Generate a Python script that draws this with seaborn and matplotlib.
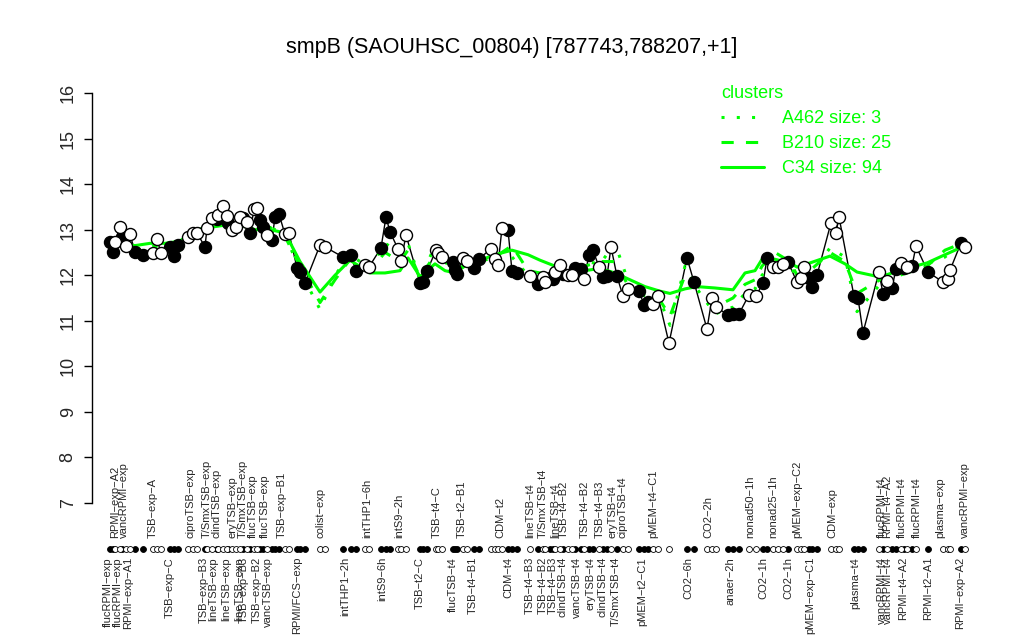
import numpy as np
import pandas as pd
import matplotlib
matplotlib.use("Agg")
import matplotlib.pyplot as plt
import seaborn as sns
from matplotlib.transforms import blended_transform_factory
from matplotlib.lines import Line2D

# ---------------- data ----------------
cond_pos = [110, 113, 115, 120, 122, 126, 130, 135, 143, 153, 157, 161, 170, 174, 178,
            188, 193, 197, 205, 207, 212, 217, 218, 223, 227, 228, 232, 236, 240, 243,
            247, 250, 254, 257, 260, 263, 267, 272, 275, 279, 285, 289, 297, 300, 305,
            320, 325, 343, 351, 356, 365, 369, 381, 386, 390, 398, 401, 406, 420, 423,
            427, 436, 438, 442, 453, 455, 457, 463, 467, 474, 479, 491, 495, 498, 502,
            508, 512, 517, 530, 538, 543, 545, 550, 553, 555, 560, 563, 568, 572, 575,
            581, 584, 589, 593, 599, 603, 607, 611, 617, 623, 628, 639, 644, 648, 653,
            658, 669, 687, 694, 707, 712, 716, 728, 733, 739, 749, 756, 763, 767, 773,
            778, 783, 788, 797, 801, 804, 809, 812, 817, 831, 836, 839, 854, 858, 863,
            879, 883, 887, 892, 896, 901, 904, 907, 912, 916, 928, 943, 948, 950, 961, 965]
expr = [12.73, 12.51, 12.73, 13.06, 12.84, 12.64, 12.90, 12.51, 12.44, 12.48, 12.80, 12.48, 12.62, 12.42, 12.66,
        12.84, 12.93, 12.93, 12.62, 13.04, 13.26, 13.23, 13.32, 13.52, 13.30, 13.15, 12.99, 13.06, 13.28, 13.26,
        13.17, 12.93, 13.45, 13.48, 13.21, 13.06, 12.88, 12.77, 13.28, 13.34, 12.90, 12.93, 12.16, 12.07, 11.83,
        12.66, 12.62, 12.40, 12.44, 12.09, 12.22, 12.18, 12.60, 13.28, 12.95, 12.58, 12.31, 12.88, 11.83, 11.85,
        12.09, 12.55, 12.48, 12.40, 12.29, 12.11, 12.03, 12.38, 12.31, 12.16, 12.36, 12.58, 12.36, 12.22, 13.04,
        12.99, 12.09, 12.05, 11.98, 11.81, 11.96, 11.85, 11.94, 11.92, 12.07, 12.22, 12.03, 12.00, 12.00, 12.16,
        12.14, 11.92, 12.44, 12.55, 12.18, 11.96, 11.98, 12.62, 11.98, 11.54, 11.70, 11.66, 11.35, 11.41, 11.37,
        11.54, 10.51, 12.38, 11.85, 10.82, 11.50, 11.30, 11.13, 11.15, 11.15, 11.57, 11.54, 11.83, 12.37, 12.18,
        12.18, 12.25, 12.29, 11.85, 11.94, 12.18, 11.94, 11.75, 12.00, 13.15, 12.93, 13.28, 11.54, 11.50, 10.74,
        12.07, 11.59, 11.87, 11.72, 12.14, 12.27, 12.16, 12.18, 12.20, 12.64, 12.07, 11.85, 11.92, 12.11, 12.71, 12.62]
filled = [1, 1, 0, 0, 1, 0, 0, 1, 1, 0, 0, 0, 1, 1, 1,
          0, 0, 0, 1, 0, 0, 1, 0, 0, 0, 1, 0, 0, 0, 1,
          0, 1, 0, 0, 1, 1, 0, 1, 1, 1, 0, 0, 1, 1, 1,
          0, 0, 1, 1, 1, 0, 0, 1, 1, 1, 0, 0, 0, 1, 1,
          1, 0, 0, 0, 1, 1, 1, 0, 0, 1, 1, 0, 0, 0, 0,
          1, 1, 1, 0, 1, 0, 0, 1, 1, 0, 0, 1, 0, 0, 1,
          1, 0, 1, 1, 0, 1, 1, 0, 1, 0, 0, 1, 1, 1, 0,
          0, 0, 1, 1, 0, 0, 0, 1, 1, 1, 0, 0, 1, 1, 0,
          0, 0, 1, 0, 0, 0, 1, 1, 1, 0, 0, 0, 1, 1, 1,
          0, 1, 0, 1, 1, 0, 1, 0, 1, 0, 1, 0, 0, 0, 1, 0]

green_pos = [110, 120, 135, 150, 165, 180, 195, 210, 225, 240, 255, 270, 285, 300, 320,
             335, 350, 370, 385, 400, 408, 420, 435, 445, 455, 468, 480, 495, 512, 528,
             540, 555, 570, 585, 600, 615, 630, 645, 660, 670, 685, 697, 715, 733, 745,
             755, 762, 775, 790, 797, 810, 830, 845, 857, 880, 900, 927, 945, 962]
c34 = [12.65, 12.70, 12.65, 12.70, 12.70, 12.75, 13.00, 13.05, 13.10, 13.10, 13.00, 13.00, 12.93, 12.30, 11.63,
       12.00, 12.33, 12.05, 12.05, 12.10, 12.38, 11.97, 12.25, 12.10, 12.05, 12.25, 12.33, 12.45, 12.55, 12.45,
       12.33, 12.20, 12.05, 12.10, 12.15, 12.05, 11.90, 11.75, 11.65, 11.60, 11.70, 11.75, 11.72, 11.68, 12.05,
       12.10, 12.35, 12.35, 12.27, 12.18, 12.27, 12.42, 12.25, 12.07, 11.96, 12.11, 12.27, 12.45, 12.62]
b210 = [12.55, 12.75, 12.55, 12.60, 12.75, 12.55, 12.90, 13.05, 13.20, 13.15, 13.05, 13.05, 12.85, 12.20, 11.40,
        11.90, 12.35, 12.10, 12.50, 12.30, 12.55, 11.95, 12.45, 12.30, 12.05, 12.30, 12.30, 12.40, 12.65, 12.10,
        12.05, 12.00, 12.05, 12.20, 12.30, 12.30, 11.70, 11.55, 11.45, 11.10, 12.00, 11.80, 11.30, 11.50, 11.80,
        11.90, 12.20, 12.50, 12.30, 12.00, 12.10, 12.50, 12.30, 11.60, 11.90, 12.00, 12.20, 12.55, 12.70]
a462 = [12.60, 12.90, 12.50, 12.55, 12.75, 12.55, 12.95, 13.10, 13.30, 13.20, 13.20, 13.05, 12.90, 12.10, 11.25,
        12.00, 12.45, 12.15, 12.70, 12.50, 12.70, 11.90, 12.65, 12.45, 12.10, 12.35, 12.35, 12.45, 12.40, 12.00,
        11.95, 12.00, 12.10, 12.30, 12.25, 12.70, 11.75, 11.50, 11.45, 10.90, 12.20, 11.70, 11.15, 11.30, 11.60,
        11.70, 12.00, 12.30, 12.35, 11.80, 12.00, 12.60, 12.40, 11.20, 11.80, 12.10, 12.25, 12.40, 12.70]

top_labels = ["RPMI−exp−A2", "vancRPMI−exp", "TSB−exp−A", "ciproTSB−exp", "T/SmxTSB−exp",
              "clindTSB−exp", "eryTSB−exp", "T/SmxTSB−exp", "flucTSB−exp", "flucTSB−exp",
              "TSB−exp−B1", "colist−exp", "intTHP1−6h", "intS9−2h", "TSB−t4−C", "TSB−t2−B1",
              "CDM−t2", "lineTSB−t4", "T/SmxTSB−t4", "lineTSB−t4", "TSB−t4−B2", "TSB−t4−B2",
              "TSB−t4−B3", "eryTSB−t4", "ciproTSB−t4", "pMEM−t4−C1", "CO2−2h", "nonad50−1h",
              "nonad25−1h", "pMEM−exp−C2", "CDM−exp", "flucRPMI−t4", "RPMI−t4−A2",
              "flucRPMI−t4", "flucRPMI−t4", "plasma−exp", "vancRPMI−exp"]
top_pos = [115, 124, 153, 191, 207, 217, 232, 243, 253, 265, 282, 320, 367, 399, 437, 462,
           500, 530, 543, 555, 564, 585, 600, 612, 622, 653, 708, 750, 773, 797, 832, 882,
           887, 902, 917, 940, 965]
bottom_labels = ["flucRPMI−exp", "flucRPMI−exp", "RPMI−exp−A1", "TSB−exp−C", "TSB−exp−B3",
                 "lineTSB−exp", "lineTSB−exp", "lineTSB−exp", "TSB−exp−B3", "TSB−exp−B2",
                 "vancTSB−exp", "RPMI/FCS−exp", "intTHP1−2h", "intS9−6h", "TSB−t2−C",
                 "flucTSB−t4", "TSB−t4−B1", "CDM−t4", "TSB−t4−B3", "TSB−t4−B2", "TSB−t4−B3",
                 "clindTSB−t4", "vancTSB−t4", "eryTSB−t4", "clindTSB−t4", "T/SmxTSB−t4",
                 "pMEM−t2−C1", "CO2−6h", "anaer−2h", "CO2−1h", "CO2−1h", "pMEM−exp−C1",
                 "plasma−t4", "vancRPMI−t4", "vancRPMI−t4", "RPMI−t4−A2", "RPMI−t2−A1",
                 "RPMI−exp−A2"]
bottom_pos = [108, 118, 128, 170, 204, 213, 226, 239, 244, 257, 268, 297, 345, 382, 420,
              453, 473, 508, 530, 543, 553, 563, 577, 590, 603, 616, 642, 688, 730, 763,
              788, 810, 855, 882, 888, 903, 928, 960]

title = "smpB (SAOUHSC_00804) [787743,788207,+1]"
y_ticks = [7, 8, 9, 10, 11, 12, 13, 14, 15, 16]

# ---------------- plot ----------------
sns.set_theme(style="white")
plt.rcParams['font.family'] = ['Liberation Sans', 'DejaVu Sans']

W, H = 1024, 640
fig = plt.figure(figsize=(W / 100, H / 100), dpi=100)
ax = fig.add_axes([92 / W, 137 / H, (985 - 92) / W, 410 / H])

df = pd.DataFrame({"pos": cond_pos, "expr": expr, "filled": filled})
gdf = pd.DataFrame({"pos": green_pos, "C34": c34, "B210": b210, "A462": a462})

sns.lineplot(data=df, x="pos", y="expr", sort=False, color="black", lw=1.0,
             ax=ax, zorder=2, estimator=None)

green = "#00ff00"
sns.lineplot(data=gdf, x="pos", y="C34", color=green, lw=2.2, ax=ax, zorder=3, estimator=None)
sns.lineplot(data=gdf, x="pos", y="B210", color=green, lw=2.2, ax=ax, zorder=3,
             estimator=None, dashes=False)
ax.lines[-1].set_dashes([4, 4])
sns.lineplot(data=gdf, x="pos", y="A462", color=green, lw=2.2, ax=ax, zorder=3, estimator=None)
ax.lines[-1].set_dashes([1, 4])

fdf = df[df["filled"] == 1]
odf = df[df["filled"] == 0]
sns.scatterplot(data=fdf, x="pos", y="expr", s=75, color="black", edgecolor="black",
                linewidth=1.0, ax=ax, zorder=4)
sns.scatterplot(data=odf, x="pos", y="expr", s=75, color="white", edgecolor="black",
                linewidth=1.0, ax=ax, zorder=4)

ax.set_xlim(92, 985)
ax.set_ylim(7, 16)
ax.set_xlabel("")
ax.set_ylabel("")
ax.set_xticks([])
ax.set_yticks(y_ticks)
ax.set_yticklabels([str(t) for t in y_ticks], rotation=90, va="center", fontsize=13)
ax.tick_params(axis="y", direction="out", length=6, width=1, color="black", pad=5, left=True)
for s in ["top", "right", "bottom"]:
    ax.spines[s].set_visible(False)
ax.spines["left"].set_color("black")
ax.spines["left"].set_linewidth(1.0)
ax.patch.set_alpha(0)

# condition dot row and labels below the plot
trans = blended_transform_factory(ax.transData, fig.transFigure)
row_y = 1 - 549 / H
ax.scatter(fdf["pos"], [row_y] * len(fdf), s=18, c="black", edgecolors="black",
           linewidths=0.6, transform=trans, clip_on=False, zorder=5)
ax.scatter(odf["pos"], [row_y] * len(odf), s=18, c="white", edgecolors="black",
           linewidths=0.6, transform=trans, clip_on=False, zorder=5)

for lab, p in zip(top_labels, top_pos):
    ax.text(p, 1 - 538 / H, lab, rotation=90, ha="center", va="bottom", fontsize=8,
            transform=trans, clip_on=False)
for lab, p in zip(bottom_labels, bottom_pos):
    ax.text(p, 1 - 557 / H, lab, rotation=90, ha="center", va="top", fontsize=8,
            transform=trans, clip_on=False)

fig.text(0.5, 1 - 47 / H, title, ha="center", va="center", fontsize=15.5, color="black")

handles = [Line2D([], [], color=green, lw=2.2, dashes=[1, 4]),
           Line2D([], [], color=green, lw=2.2, dashes=[4, 4]),
           Line2D([], [], color=green, lw=2.2)]
leg = ax.legend(handles, ["A462 size: 3", "B210 size: 25", "C34 size: 94"],
                title="clusters", loc="upper left",
                bbox_to_anchor=(712 / W, 1 - 76 / H), bbox_transform=fig.transFigure,
                frameon=False, fontsize=13, title_fontsize=13, handlelength=2.4,
                handletextpad=1.0, labelspacing=0.45, borderpad=0, alignment="left")
leg.get_title().set_color(green)
for t in leg.get_texts():
    t.set_color(green)

fig.savefig("out.png", dpi=100)
